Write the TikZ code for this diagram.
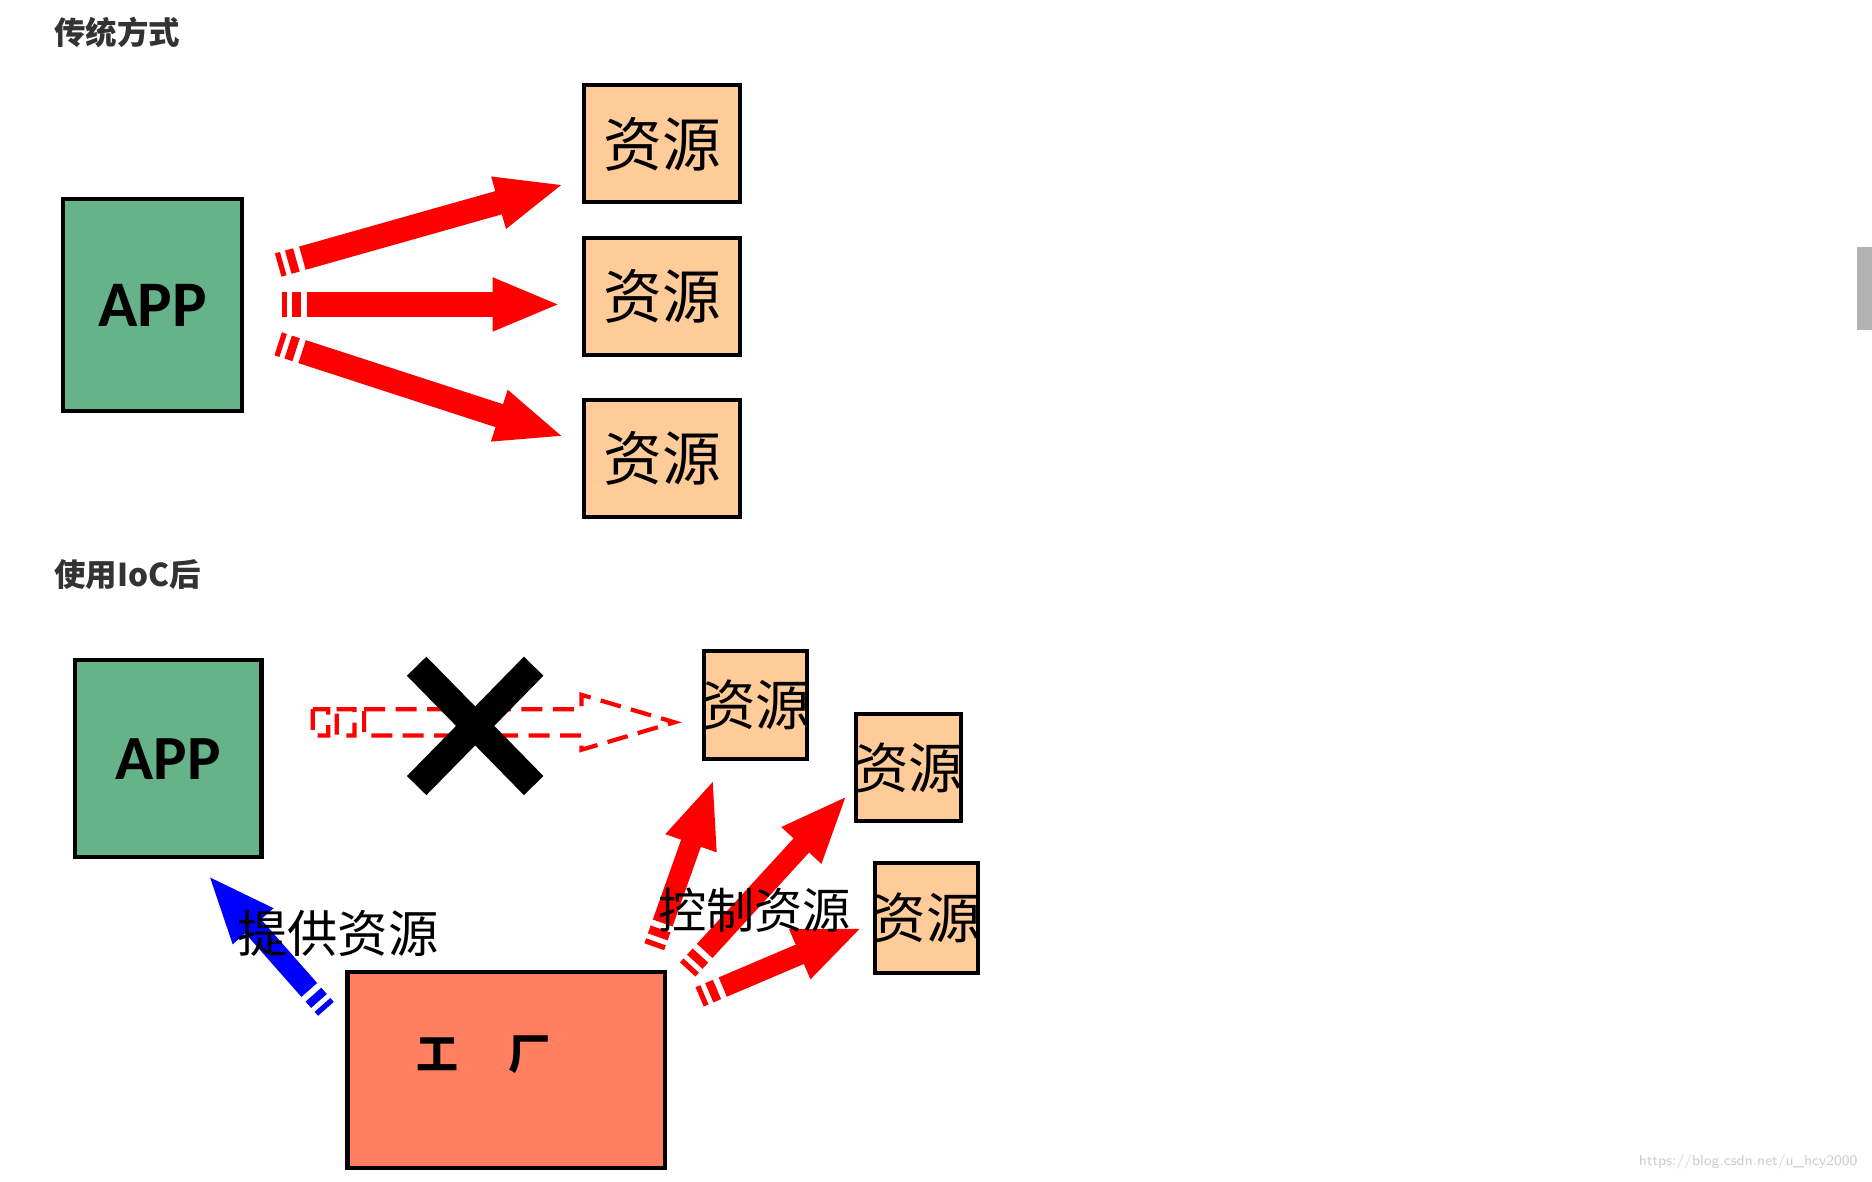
\documentclass[tikz,border=0pt]{standalone}
\usepackage{fontspec}
\newfontfamily\cjk{Noto Sans CJK SC}
\newfontfamily\appf{Carlito}
\usetikzlibrary{calc}
\definecolor{appg}{HTML}{66B38A}
\definecolor{res}{HTML}{FFCC99}
\definecolor{fac}{HTML}{FF7F5F}
\tikzset{
 box/.style={draw=black,line width=2pt,inner sep=0pt},
 restxt/.style={font=\cjk\fontsize{28pt}{30pt}\selectfont},
 title/.style={font=\cjk\bfseries\fontsize{15pt}{16pt}\selectfont,text=black!80,anchor=west,inner sep=0pt},
}
\newcommand\barrow[4]{%
 \path ($(#2)!31pt!(#1)$) coordinate (hb);
 \fill[#3] (#2) -- ($(hb)!13pt!90:(#2)$) -- ($(hb)!13pt!-90:(#2)$) -- cycle;
 \draw[#3,line width=#4] ($(#1)!12pt!(#2)$) -- ($(hb)!1pt!(#2)$);
 \draw[#3,line width=#4] ($(#1)!0pt!(#2)$) -- ($(#1)!2.5pt!(#2)$);
 \draw[#3,line width=#4] ($(#1)!5pt!(#2)$) -- ($(#1)!9pt!(#2)$);
}
\begin{document}
\begin{tikzpicture}[x=0.02cm,y=-0.02cm]
\useasboundingbox (0,0) rectangle (1568,990);
\node[title] (t1) at (45,27) {传统方式};
\node[title] (t2) at (45,481) {使用IoC后};
% top
\node[box,fill=appg,minimum width=150*0.02cm,minimum height=177*0.02cm,font=\appf\bfseries\fontsize{31pt}{33pt}\selectfont] (app1) at (128,255.5) {APP};
\foreach \n/\y in {r1/120.5,r2/248.5,r3/384}
 \node[box,fill=res,minimum width=131*0.02cm,minimum height=98*0.02cm,restxt] (\n) at (554.5,\y) {资源};
\coordinate (s1) at (233,222); \coordinate (e1) at (470,155);
\coordinate (s2) at (236,255); \coordinate (e2) at (467,255);
\coordinate (s3) at (233,288); \coordinate (e3) at (470,365);
\barrow{s1}{e1}{red}{11.5pt}\barrow{s2}{e2}{red}{11.5pt}\barrow{s3}{e3}{red}{11.5pt}
% bottom
\node[box,fill=appg,minimum width=156*0.02cm,minimum height=165*0.02cm,font=\appf\bfseries\fontsize{30pt}{32pt}\selectfont] (app2) at (141,635.5) {APP};
\node[box,fill=res,minimum width=86*0.02cm,minimum height=91*0.02cm] (b1) at (633,590.5) {};
\node[box,fill=res,minimum width=88*0.02cm,minimum height=90*0.02cm] (b2) at (761,643) {};
\node[box,fill=res,minimum width=86*0.02cm,minimum height=92*0.02cm] (b3) at (776,769) {};
\foreach \n in {b1,b2,b3} \node[font=\cjk\fontsize{26pt}{28pt}\selectfont] at (\n) {资源};
\node[box,fill=fac,minimum width=266*0.02cm,minimum height=164*0.02cm] (fac) at (424,896) {};
\node[font=\cjk\bfseries\fontsize{20pt}{22pt}\selectfont] at (405,883) {工\hspace{1.2em}厂};
% dashed outline arrow
\draw[red,line width=2pt,dash pattern=on 10pt off 5pt]
 (262,594) -- (275,594) -- (275,616) -- (262,616) -- cycle
 (282,594) -- (297,594) -- (297,616) -- (282,616) -- cycle
 (305,594) -- (487,594) -- (487,582) -- (565,605) -- (487,628) -- (487,616) -- (305,616) -- cycle;
% X
\draw[black,line width=13pt] (349,558) -- (447,658) (447,558) -- (349,658);
% blue
\coordinate (bs) at (273,845); \coordinate (be) at (176,735);
\barrow{bs}{be}{blue}{10pt}
\coordinate (c1s) at (548,793); \coordinate (c1e) at (597,655);
\coordinate (c2s) at (576,812); \coordinate (c2e) at (708,668);
\coordinate (c3s) at (586,835); \coordinate (c3e) at (720,778);
\barrow{c1s}{c1e}{red}{10pt}\barrow{c2s}{c2e}{red}{10pt}\barrow{c3s}{c3e}{red}{10pt}
\node[font=\cjk\fontsize{24pt}{26pt}\selectfont] (l1) at (283,782) {提供资源};
\node[font=\cjk\fontsize{23pt}{25pt}\selectfont] (l2) at (632,762) {控制资源};
\fill[black!30] (1555,207) rectangle (1568,276);
\node[font=\sffamily\fontsize{7pt}{8pt}\selectfont,text=black!20,anchor=east] (wm) at (1562,973) {https://blog.csdn.net/u\_hcy2000};
\end{tikzpicture}
\end{document}
